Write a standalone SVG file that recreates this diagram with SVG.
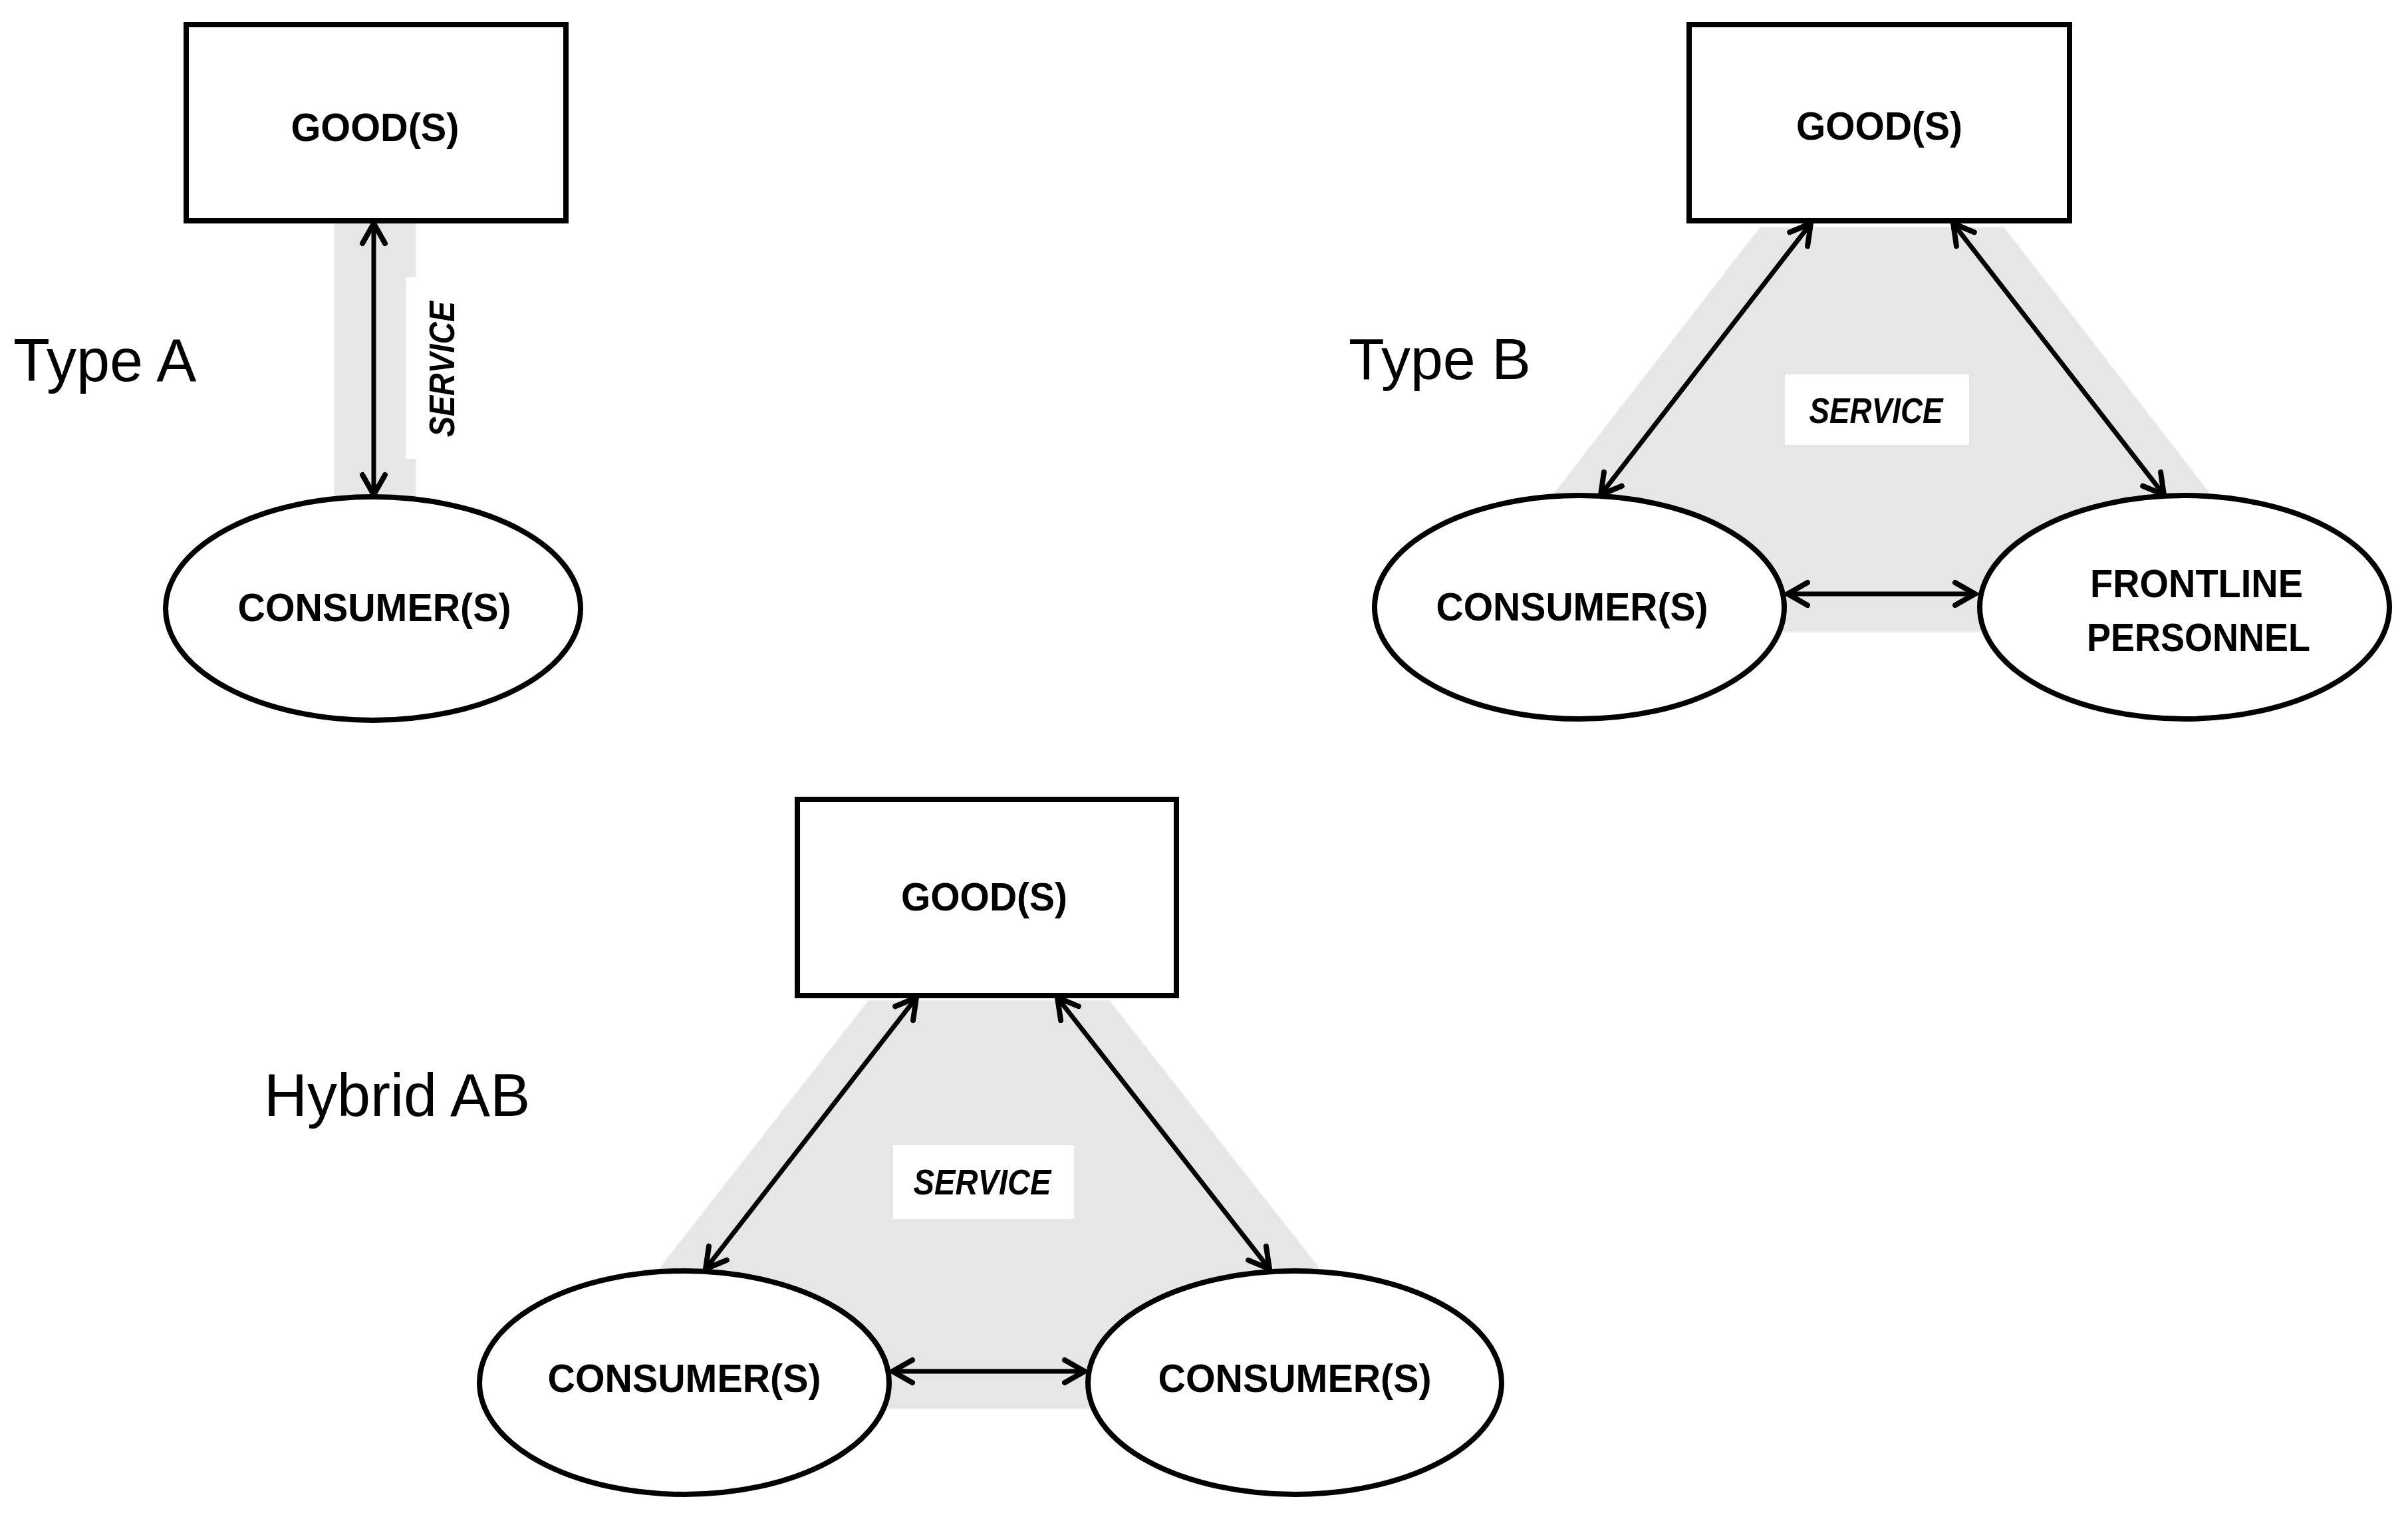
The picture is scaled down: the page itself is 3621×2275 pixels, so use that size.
<svg xmlns="http://www.w3.org/2000/svg" width="3621" height="2275" viewBox="0 0 3621 2275">
<defs>
<style>
.node{fill:#fff;stroke:#000;stroke-width:8}
.lbl{font-family:"Liberation Sans",Arial,sans-serif;font-weight:bold;font-size:60px;text-anchor:middle;fill:#000}
.svc{font-family:"Liberation Sans",Arial,sans-serif;font-weight:bold;font-style:italic;font-size:54px;text-anchor:middle;fill:#000}
.title{font-family:"Liberation Sans",Arial,sans-serif;font-size:90px;fill:#000}
.band{fill:#e6e6e6;stroke:#ececec;stroke-width:2}
.conn{stroke:#000;stroke-width:7;fill:none;marker-start:url(#ah);marker-end:url(#ah)}
</style>
<marker id="ah" markerUnits="userSpaceOnUse" viewBox="-40 -24 48 48" refX="0" refY="0" markerWidth="48" markerHeight="48" orient="auto-start-reverse">
<path d="M -30 -17 L 0 0 L -30 17" fill="none" stroke="#000" stroke-width="8" stroke-linecap="round" stroke-linejoin="miter"/>
</marker>
</defs>
<rect width="3621" height="2275" fill="#fff"/>

<!-- service areas -->
<g id="service-areas">
<rect class="band" x="503" y="333" width="122" height="414"/>
<rect x="610" y="417" width="100" height="273" fill="#fff"/>
<polygon class="band" points="2647,342 3013,342 3325,745 3325,950 2335,950 2335,745"/>
<polygon class="band" points="1306,1505 1668,1505 1986,1910 1986,2118 990,2118 990,1910"/>
</g>

<!-- titles -->
<text class="title" x="20" y="573">Type A</text>
<text class="title" x="2028" y="570" style="font-size:88px">Type B</text>
<text class="title" x="397" y="1678">Hybrid AB</text>

<!-- connectors -->
<g id="connectors">
<line class="conn" x1="562" y1="336" x2="562" y2="744"/>
<line class="conn" x1="2723" y1="336" x2="2407" y2="744"/>
<line class="conn" x1="2937" y1="336" x2="3254" y2="744"/>
<line class="conn" x1="2688" y1="893" x2="2970" y2="893"/>
<line class="conn" x1="1378" y1="1500" x2="1061" y2="1908"/>
<line class="conn" x1="1590" y1="1500" x2="1909" y2="1908"/>
<line class="conn" x1="1342" y1="2062" x2="1631" y2="2062"/>
</g>

<!-- Type A -->
<g id="typeA-goods">
<rect class="node" x="280" y="37" width="571" height="295"/>
<text class="lbl" x="564" y="212" textLength="253" lengthAdjust="spacingAndGlyphs">GOOD(S)</text>
</g>
<g id="typeA-consumers">
<ellipse class="node" cx="561" cy="915" rx="312" ry="168"/>
<text class="lbl" x="563" y="934" textLength="411" lengthAdjust="spacingAndGlyphs">CONSUMER(S)</text>
</g>
<g id="typeA-service">
<text class="svc" transform="translate(683,555) rotate(-90)" x="0" y="0" textLength="204" lengthAdjust="spacingAndGlyphs">SERVICE</text>
</g>

<!-- Type B -->
<g id="typeB-goods">
<rect class="node" x="2540" y="37" width="572" height="295"/>
<text class="lbl" x="2826" y="210" textLength="250" lengthAdjust="spacingAndGlyphs">GOOD(S)</text>
</g>
<g id="typeB-consumers">
<ellipse class="node" cx="2375" cy="913" rx="308" ry="168"/>
<text class="lbl" x="2364" y="933" textLength="409" lengthAdjust="spacingAndGlyphs">CONSUMER(S)</text>
</g>
<g id="typeB-frontline">
<ellipse class="node" cx="3285" cy="913" rx="308" ry="168"/>
<text class="lbl" x="3303" y="898" textLength="320" lengthAdjust="spacingAndGlyphs">FRONTLINE</text>
<text class="lbl" x="3306" y="979" textLength="336" lengthAdjust="spacingAndGlyphs">PERSONNEL</text>
</g>
<g id="typeB-service">
<rect x="2684" y="563" width="277" height="106" fill="#fff"/>
<text class="svc" x="2821" y="636" textLength="201" lengthAdjust="spacingAndGlyphs">SERVICE</text>
</g>

<!-- Hybrid AB -->
<g id="hybrid-goods">
<rect class="node" x="1199" y="1202" width="570" height="295"/>
<text class="lbl" x="1480" y="1369" textLength="250" lengthAdjust="spacingAndGlyphs">GOOD(S)</text>
</g>
<g id="hybrid-consumers-left">
<ellipse class="node" cx="1029" cy="2079" rx="308" ry="168"/>
<text class="lbl" x="1029" y="2093" textLength="411" lengthAdjust="spacingAndGlyphs">CONSUMER(S)</text>
</g>
<g id="hybrid-consumers-right">
<ellipse class="node" cx="1947" cy="2079" rx="311" ry="168"/>
<text class="lbl" x="1947" y="2093" textLength="411" lengthAdjust="spacingAndGlyphs">CONSUMER(S)</text>
</g>
<g id="hybrid-service">
<rect x="1343" y="1722" width="272" height="111" fill="#fff"/>
<text class="svc" x="1477" y="1796" textLength="207" lengthAdjust="spacingAndGlyphs">SERVICE</text>
</g>
</svg>
